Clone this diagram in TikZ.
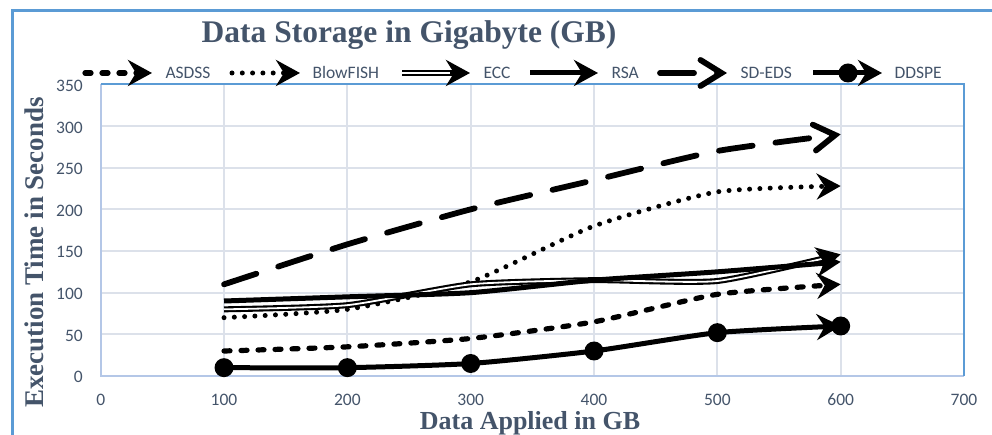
\documentclass[tikz,border=0pt]{standalone}
\usepackage{fontspec}
\setmainfont{Liberation Serif}
\newfontfamily\tickfont{Carlito}
\usetikzlibrary{arrows.meta}

\definecolor{slate}{HTML}{44546A}
\definecolor{frameblue}{HTML}{5B9BD5}
\definecolor{gridc}{HTML}{DCE1EA}
\definecolor{axisc}{HTML}{B4C7E7}

\tikzset{
  tipfill/.style={-{Stealth[length=24pt,width=26pt,inset=8pt]}},
  tipopen/.style={-{Straight Barb[length=21pt,width=26pt,line cap=round]}},
  asdss/.style={line width=5.2pt, line cap=round, dash pattern=on 6pt off 11pt, tipfill},
  blowfish/.style={line width=5pt, line cap=round, dash pattern=on 0pt off 10.3pt, tipfill},
  eccout/.style={line width=6pt, tipfill},
  eccin/.style={white, line width=1.8pt},
  rsa/.style={line width=5pt, tipfill},
  sdeds/.style={line width=5.8pt, line cap=round, dash pattern=on 34pt off 23pt, tipopen},
  ddspe/.style={line width=5pt, tipfill},
  dot/.style={circle, fill=black, inner sep=0pt, minimum size=19pt},
  legtext/.style={anchor=base west, text=slate, font=\tickfont\fontsize{17.5}{20}\selectfont},
  ticktext/.style={text=slate, font=\tickfont\fontsize{17.5}{20}\selectfont, inner sep=0pt},
  axtitle/.style={text=slate, font=\bfseries\fontsize{26}{30}\selectfont, inner sep=0pt},
}

\begin{document}
\begin{tikzpicture}[x=1pt,y=1pt]
\useasboundingbox (0,0) rectangle (992,435);

% outer chart frame (left and top edges)
\draw[frameblue, line width=3pt] (12,0) -- (12,424) -- (992,424);

% title
\node[anchor=base, text=slate, font=\bfseries\fontsize{31.5}{36}\selectfont, inner sep=0pt]
  (title) at (409,392.3) {Data Storage in Gigabyte (GB)};

% plot area: data coordinates (x in GB, y in seconds)
\begin{scope}[shift={(100.7,59)}, x=1.2333pt, y=0.8333pt]
  % grid
  \foreach \gx in {100,200,...,600} \draw[gridc, line width=2pt] (\gx,0) -- (\gx,350);
  \foreach \gy in {50,100,...,300} \draw[gridc, line width=2pt] (0,\gy) -- (700,\gy);
  % axes and plot frame
  \draw[axisc, line width=2pt] (0,350) -- (0,0) -- (700,0);
  \draw[frameblue, line width=2pt] (0,350) -- (700,350) -- (700,0);

  % tick labels
  \foreach \gy in {0,50,...,350}
    \node[ticktext, anchor=base east] at ([xshift=-17.7pt,yshift=-7pt]0,\gy) {\gy};
  \foreach \gx in {0,100,...,700}
    \node[ticktext, anchor=base] at ([yshift=-30pt]\gx,0) {\gx};

  % series
  \draw[sdeds] plot[smooth, tension=0.35] coordinates
    {(100,110) (200,158) (300,200) (400,235) (500,270) (600,290)};
  \draw[blowfish] plot[smooth, tension=0.35] coordinates
    {(100,70) (200,80) (300,113) (400,180) (500,221) (600,228)};
  \draw[eccout] plot[smooth, tension=0.35] coordinates
    {(100,80) (200,85) (300,110) (400,115) (500,114) (600,146)};
  \draw[eccin, shorten >=20pt] plot[smooth, tension=0.35] coordinates
    {(100,80) (200,85) (300,110) (400,115) (500,114) (600,146)};
  \draw[rsa] plot[smooth, tension=0.35] coordinates
    {(100,90) (200,95) (300,100) (400,115) (500,125) (600,137)};
  \draw[asdss] plot[smooth, tension=0.35] coordinates
    {(100,30) (200,35) (300,45) (400,65) (500,98) (600,110)};
  \draw[ddspe] plot[smooth, tension=0.35] coordinates
    {(100,10) (200,10) (300,15) (400,30) (500,52) (600,60)};
  \foreach \px/\py [count=\i] in {100/10,200/10,300/15,400/30,500/52,600/60}
    \node[dot] (d\i) at (\px,\py) {};
\end{scope}

% axis titles
\node[axtitle, rotate=90, anchor=base, font=\bfseries\fontsize{27}{30}\selectfont]
  (ytitle) at (43,182.5) {Execution Time in Seconds};
\node[axtitle, anchor=base] (xtitle) at (530,5.5) {Data Applied in GB};

% legend
\coordinate (la1) at (85,362);  \coordinate (lb1) at (152,362);
\coordinate (la2) at (232,362); \coordinate (lb2) at (300,362);
\coordinate (la3) at (402,362); \coordinate (lb3) at (470,362);
\coordinate (la4) at (530,362); \coordinate (lb4) at (598,362);
\coordinate (la5) at (660,362); \coordinate (lb5) at (727,362);
\coordinate (la6) at (813,362); \coordinate (lb6) at (882,362);
\draw[asdss] (la1) -- (lb1);
\draw[blowfish] (la2) -- (lb2);
\draw[eccout] (la3) -- (lb3);
\draw[eccin, shorten >=20pt] (la3) -- (lb3);
\draw[rsa] (la4) -- (lb4);
\draw[sdeds] (la5) -- (lb5);
\draw[ddspe] (la6) -- (lb6);
\node[dot] (ldot) at (848,362) {};
\node[legtext] (l1) at (162,356) {ASDSS};
\node[legtext] (l2) at (309,356) {BlowFISH};
\node[legtext] (l3) at (480,356) {ECC};
\node[legtext] (l4) at (608,356) {RSA};
\node[legtext] (l5) at (737,356) {SD-EDS};
\node[legtext] (l6) at (891,356) {DDSPE};
\end{tikzpicture}
\end{document}
